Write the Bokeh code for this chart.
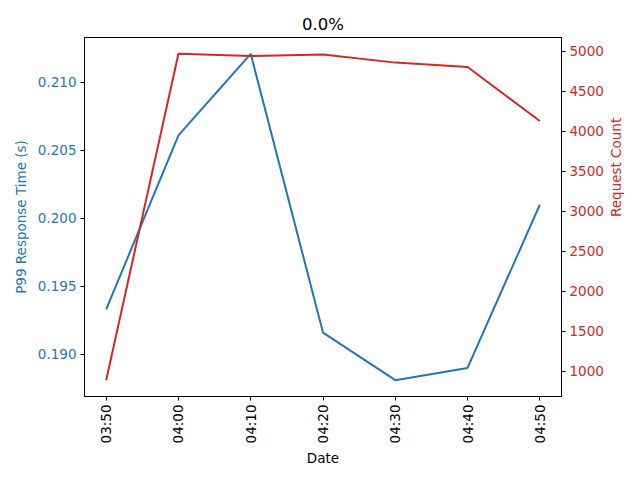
import math
import pandas as pd
from bokeh.plotting import figure
from bokeh.models import (Range1d, LinearAxis, FixedTicker, NumeralTickFormatter,
                          DatetimeTickFormatter)
from bokeh.embed import file_html
from bokeh.resources import INLINE

# Data
times = ["03:50", "04:00", "04:10", "04:20", "04:30", "04:40", "04:50"]
p99_response = [0.1933, 0.2061, 0.2121, 0.1916, 0.1881, 0.1890, 0.2010]
request_count = [887, 4965, 4938, 4955, 4855, 4800, 4126]
left_ticks = [0.190, 0.195, 0.200, 0.205, 0.210]
right_ticks = [1000, 1500, 2000, 2500, 3000, 3500, 4000, 4500, 5000]

BLUE = "#1f77b4"
RED = "#d62728"
FONT = "DejaVu Sans"

dates = pd.to_datetime(["2024-01-01 " + t for t in times])
x_ms = [d.value / 1e6 for d in dates]

span = x_ms[-1] - x_ms[0]
xr = Range1d(x_ms[0] - 0.05 * span, x_ms[-1] + 0.05 * span)
lo, hi = min(p99_response), max(p99_response)
yr = Range1d(lo - 0.05 * (hi - lo), hi + 0.05 * (hi - lo))
rlo, rhi = min(request_count), max(request_count)
ry = Range1d(rlo - 0.05 * (rhi - rlo), rhi + 0.05 * (rhi - rlo))

p = figure(width=640, height=480, x_range=xr, y_range=yr,
           output_backend="svg", toolbar_location=None,
           x_axis_type="datetime", title="0.0%")
p.min_border_left = 84
p.min_border_right = 79
p.min_border_top = 37
p.min_border_bottom = 84
p.extra_y_ranges = {"count": ry}

p.title.align = "center"
p.title.text_font = FONT
p.title.text_font_size = "16.5px"
p.title.text_font_style = "normal"
p.title.text_color = "black"
p.title.standoff = 8

p.grid.visible = False
p.outline_line_color = "black"
p.outline_line_width = 1
p.background_fill_color = "white"
p.border_fill_color = "white"

p.line(x_ms, p99_response, color=BLUE, line_width=2)
p.line(x_ms, request_count, color=RED, line_width=2, y_range_name="count")

# x axis
xa = p.xaxis[0]
xa.ticker = FixedTicker(ticks=x_ms)
xa.formatter = DatetimeTickFormatter(minutes="%H:%M", hours="%H:%M", minsec="%H:%M", hourmin="%H:%M")
xa.major_label_orientation = math.pi / 2
xa.axis_label = "Date"
xa.major_label_text_color = "black"
xa.axis_label_text_color = "black"

# left axis
ya = p.yaxis[0]
ya.ticker = FixedTicker(ticks=left_ticks)
ya.formatter = NumeralTickFormatter(format="0.000")
ya.axis_label = "P99 Response Time (s)"
ya.major_label_text_color = BLUE
ya.axis_label_text_color = BLUE

# right axis
ra = LinearAxis(y_range_name="count", ticker=FixedTicker(ticks=right_ticks),
                axis_label="Request Count")
ra.major_label_text_color = RED
ra.axis_label_text_color = RED
p.add_layout(ra, "right")

for ax in [xa, ya, ra]:
    ax.axis_line_color = "black"
    ax.major_tick_line_color = "black"
    ax.major_tick_out = 4
    ax.major_tick_in = 0
    ax.minor_tick_line_color = None
    ax.major_label_text_font = FONT
    ax.major_label_text_font_size = "13.5px"
    ax.axis_label_text_font = FONT
    ax.axis_label_text_font_size = "13.5px"
    ax.axis_label_text_font_style = "normal"
    ax.major_label_standoff = 4
    ax.axis_label_standoff = 6

xa.axis_label_standoff = 4
ra.axis_label_standoff = 9
ra.axis_label_orientation = math.pi / 2

open("out.html", "w").write(file_html(p, INLINE))
